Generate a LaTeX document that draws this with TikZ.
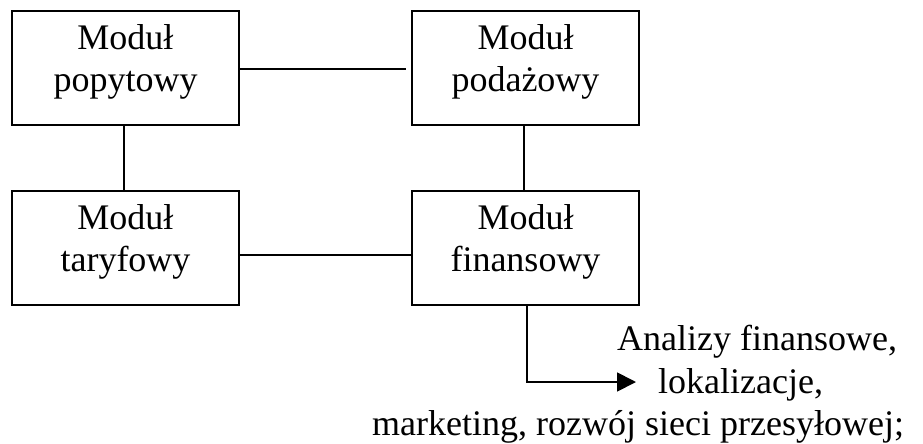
\documentclass[tikz,border=0pt]{standalone}
\usepackage{fontspec}
\setmainfont{Liberation Serif}
\usetikzlibrary{arrows.meta}
\begin{document}
\begin{tikzpicture}[x=1pt,y=-1pt,
  modbox/.style={draw, line width=1.8pt, minimum width=227pt, minimum height=114pt, inner sep=0pt},
  modtxt/.style={align=center, inner sep=0pt, font=\fontsize{36}{42.5}\selectfont},
  plain/.style={inner sep=0pt, anchor=base west, font=\fontsize{36}{42.5}\selectfont},
  conn/.style={line width=1.8pt}]
\useasboundingbox (0,0) rectangle (923,444);
\node[modbox] (pop) at (125.5,68) {};
\node[modbox] (pod) at (525.5,68) {};
\node[modbox] (tar) at (125.5,248) {};
\node[modbox] (fin) at (525.5,248) {};
\node[modtxt] (popt) at ([yshift=6pt]pop.center) {Moduł\\popytowy};
\node[modtxt] (podt) at ([yshift=6pt]pod.center) {Moduł\\podażowy};
\node[modtxt] (tart) at ([yshift=6pt]tar.center) {Moduł\\taryfowy};
\node[modtxt] (fint) at ([yshift=6pt]fin.center) {Moduł\\finansowy};
\draw[conn, shorten >=5pt] ([yshift=-1pt]pop.east) -- ([yshift=-1pt]pod.west);
\draw[conn] ([xshift=-1.5pt]pop.south) -- ([xshift=-1.5pt]tar.north);
\draw[conn] ([xshift=-1.5pt]pod.south) -- ([xshift=-1.5pt]fin.north);
\draw[conn] ([yshift=-7pt]tar.east) -- ([yshift=-7pt]fin.west);
\coordinate (out) at (636,382);
\draw[conn, -{Triangle[length=19pt,width=19pt]}] ([xshift=1.5pt]fin.south) |- (out);
\node[plain] (l1) at (617,350) {Analizy finansowe,};
\node[plain] (l2) at (658,393) {lokalizacje,};
\node[plain] (l3) at (372,435) {marketing, rozwój sieci przesyłowej;};
\end{tikzpicture}
\end{document}
